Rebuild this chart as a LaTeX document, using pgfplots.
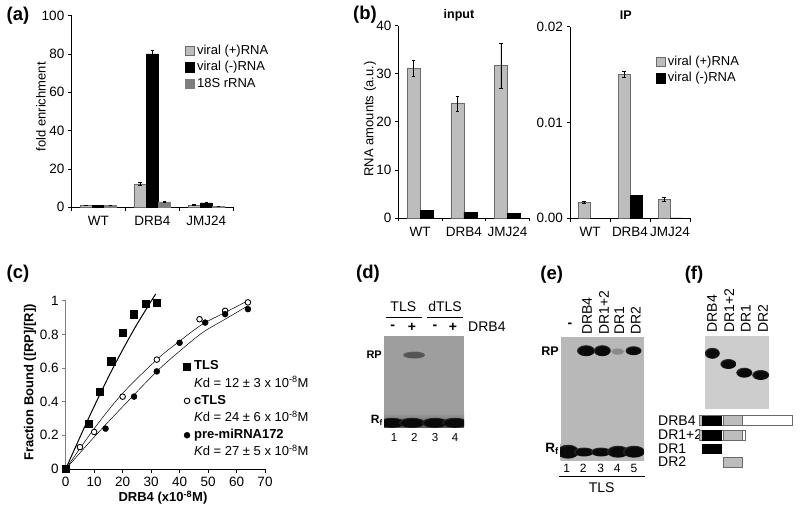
\documentclass[border=0pt]{standalone}
\usepackage{fontspec}
\setmainfont{Liberation Sans}
\usepackage{pgfplots}
\pgfplotsset{compat=1.18}
\definecolor{lgray}{HTML}{BDBDBD}
\definecolor{dgray}{HTML}{7E7E7E}
\definecolor{edge}{HTML}{6A6A6A}
\definecolor{geld}{HTML}{9E9E9E}
\definecolor{gele}{HTML}{B8B8B8}
\definecolor{gelf}{HTML}{CDCDCD}
\definecolor{core}{HTML}{0A0A0A}
\definecolor{weak}{HTML}{8A8A8A}
\definecolor{mid}{HTML}{555555}

\newcommand{\fs}[1]{\fontsize{#1}{#1}\selectfont}
\newcommand{\bandshade}[3]{\pgfdeclareradialshading{#1}{\pgfpoint{0bp}{0bp}}{color(0bp)=(#2); color(20bp)=(#2); color(50bp)=(#3); color(72bp)=(#3)}}
\bandshade{bandD}{core}{geld}
\bandshade{bandDm}{mid}{geld}
\bandshade{bandE}{core}{gele}
\bandshade{bandEw}{weak}{gele}
\bandshade{bandF}{core}{gelf}
% x, y, x radius, y radius, shading
\newcommand{\band}[5]{\shade[shading=#5] (#1,#2) ellipse [x radius=#3pt, y radius=#4pt];}

\pgfplotsset{
  panel/.style={
    scale only axis, axis lines=left, axis line style={-, line width=0.9pt},
    clip=false, tick align=outside, tick style={black, line width=0.7pt},
    major tick length=3.5pt, minor tick length=3.5pt,
    tick label style={font=\fs{13.5}},
    /pgf/number format/assume math mode=true,
    ylabel style={font=\fs{13}, anchor=center},
    title style={font=\bfseries\fs{12.5}, anchor=center},
  },
  barpanel/.style={
    panel, ybar=0pt, xmin=-0.5, xmax=2.5, ymin=0,
    xtick={0,1,2}, xticklabels={WT,DRB4,JMJ24}, major x tick style={draw=none},
    minor xtick={-0.5,0.5,1.5,2.5},
    xticklabel style={yshift=-2pt},
    legend cell align=left,
    legend style={draw=none, fill=none, font=\fs{13}, anchor=north west, row sep=4.7pt,
      nodes={inner xsep=2pt, inner ysep=0pt, text height=9.5pt, text depth=2.5pt}},
  },
  sq/.style={legend image code/.code={\draw[##1] (0pt,-4.7pt) rectangle (9.5pt,4.7pt);}},
  ebar/.style={error bars/.cd, y dir=both, y explicit,
    error bar style={black, line width=0.5pt}, error mark options={rotate=90, black, mark size=1.6pt, line width=0.5pt}},
  barg/.style={draw=edge, fill=lgray, line width=0.6pt, sq, ebar},
  bark/.style={draw=black, fill=black, line width=0.6pt, sq, ebar},
  bard/.style={draw=dgray, fill=dgray, line width=0.6pt, sq, ebar},
}

\begin{document}
\begin{tikzpicture}
\path[use as bounding box] (0,0) rectangle (800pt,512pt);

% (a)
\begin{axis}[barpanel, at={(71.3pt,304.7pt)}, anchor=south west, width=162pt, height=191.8pt,
  bar width=12.33pt, ymax=100, ytick={0,20,40,60,80,100},
  ylabel={fold enrichment}, ylabel style={at={(axis description cs:-0.187,0.524)}},
  legend style={at={(axis description cs:0.682,0.86)}}]
\addplot[barg] coordinates {(0,1.0) +- (0,0.1) (1,12.2) +- (0,0.8) (2,1.2) +- (0,0.2)};
\addplot[bark] coordinates {(0,0.8) +- (0,0.1) (1,80) +- (0,1.8) (2,2.3) +- (0,0.2)};
\addplot[bard] coordinates {(0,1.0) +- (0,0.1) (1,2.8) +- (0,0.3) (2,0.5) +- (0,0.1)};
\legend{viral (+)RNA, viral (-)RNA, 18S rRNA}
\end{axis}

% (b) input
\begin{axis}[barpanel, at={(398.3pt,294pt)}, anchor=south west, width=131pt, height=192.3pt,
  bar width=13pt, ymax=40, ytick={0,10,20,30,40},
  ylabel={RNA amounts (a.u.)}, ylabel style={at={(axis description cs:-0.216,0.515)}},
  title={input}, title style={at={(axis description cs:0.463,1.023)}}]
\addplot[barg] coordinates {(0,31.2) +- (0,1.7) (1,23.8) +- (0,1.5) (2,31.7) +- (0,4.7)};
\addplot[bark] coordinates {(0,1.5) (1,1.2) (2,1.0)};
\end{axis}

% (b) IP
\begin{axis}[barpanel, at={(570pt,293.7pt)}, anchor=south west, width=120pt, height=191.6pt,
  bar width=12pt, ymax=0.02, ytick={0,0.01,0.02}, scaled y ticks=false,
  yticklabel style={/pgf/number format/.cd, fixed, fixed zerofill, precision=2},
  title={IP}, title style={at={(axis description cs:0.464,1.03)}},
  legend style={at={(axis description cs:0.688,0.86)}}]
\addplot[barg] coordinates {(0,0.0017) +- (0,0.0001) (1,0.0150) +- (0,0.0003) (2,0.0020) +- (0,0.0002)};
\addplot[bark] coordinates {(0,0.00002) (1,0.0024) (2,0.00005)};
\legend{viral (+)RNA, viral (-)RNA}
\end{axis}

% (c)
\begin{axis}[panel, at={(65.7pt,43pt)}, anchor=south west, width=199.3pt, height=168.3pt,
  xmin=0, xmax=70, ymin=0, ymax=1, xtick={0,10,...,70}, ytick={0,0.2,0.4,0.6,0.8,1},
  y axis line style={draw=gray, line width=1.3pt}, ytick style={draw=gray},
  x axis line style={line width=0.7pt},
  xticklabel style={yshift=-1pt},
  ylabel={\bfseries Fraction Bound ([RP]/[R])}, ylabel style={at={(axis description cs:-0.179,0.514)}},
  xlabel={\bfseries DRB4 (x10\textsuperscript{-8}M)},
  xlabel style={font=\fs{13}, at={(axis description cs:0.488,-0.172)}, anchor=center},
  legend cell align=left,
  legend style={draw=none, fill=none, font=\fs{13}, anchor=north west, row sep=5.2pt,
    at={(axis description cs:0.55,0.658)},
    nodes={inner xsep=3.5pt, inner ysep=0pt, text height=9.5pt, text depth=2.5pt}},
  ]
\addlegendimage{only marks, mark=square*, black, mark size=3.6pt}
\addlegendentry{\bfseries TLS}
\addlegendimage{empty legend}
\addlegendentry{{\itshape K}d = 12 ± 3 x 10\textsuperscript{-8}M}
\addlegendimage{only marks, mark=*, mark options={fill=white, draw=black, line width=0.9pt}, mark size=2.8pt}
\addlegendentry{\bfseries cTLS}
\addlegendimage{empty legend}
\addlegendentry{{\itshape K}d = 24 ± 6 x 10\textsuperscript{-8}M}
\addlegendimage{only marks, mark=*, black, mark size=3pt}
\addlegendentry{\bfseries pre-miRNA172}
\addlegendimage{empty legend}
\addlegendentry{{\itshape K}d = 27 ± 5 x 10\textsuperscript{-8}M}
% fitted curves
\addplot[forget plot, black, line width=1pt, smooth] coordinates {(0,0) (8,0.30) (16,0.58) (24,0.83) (31.6,1.04)};
\addplot[forget plot, black, line width=0.5pt, smooth] coordinates {(0,0) (10,0.24) (20,0.45) (32,0.65) (40,0.76) (48,0.86) (56,0.93) (64,1.0)};
\addplot[forget plot, black, line width=0.5pt, smooth] coordinates {(0,0) (10,0.19) (20,0.37) (32,0.58) (40,0.70) (48,0.81) (56,0.89) (64,0.97)};
% measurements
\addplot[forget plot, only marks, mark=*, mark options={fill=white, draw=black, line width=0.9pt}, mark size=2.8pt]
  coordinates {(5,0.13) (10,0.22) (20,0.43) (32,0.65) (47,0.89) (56,0.94) (64,0.99)};
\addplot[forget plot, only marks, mark=*, black, mark size=3pt]
  coordinates {(14,0.24) (24,0.43) (32,0.58) (40,0.75) (49,0.87) (56,0.92) (64,0.95)};
\addplot[forget plot, only marks, mark=square*, black, mark size=3.6pt]
  coordinates {(0,0) (8,0.27) (12,0.46) (16,0.64) (20,0.81) (24,0.92) (28,0.98) (32,0.99)};
\end{axis}

% everything below in image pixels, y downwards
\begin{scope}[yshift=512pt, x=1pt, y=-1pt, every node/.style={inner sep=0pt}]
% panel letters
\node[font=\bfseries\fs{18.5}] at (18,16) {(a)};
\node[font=\bfseries\fs{18.5}] at (365,15) {(b)};
\node[font=\bfseries\fs{18.5}] at (18,274) {(c)};
\node[font=\bfseries\fs{18.5}] at (368,274) {(d)};
\node[font=\bfseries\fs{18.5}] at (551.7,275) {(e)};
\node[font=\bfseries\fs{18.5}] at (694,275) {(f)};

% (d) gel
\begin{scope}
\clip (384,335.7) rectangle (464,427.3);
\fill[geld] (384,335.7) rectangle (464,427.3);
\shade[top color=geld, middle color=black!90, bottom color=black!70] (384,413) rectangle (464,429);
\foreach \x in {392,412,435,455} {\band{\x}{422.8}{13}{5}{bandD}}
\band{414}{355}{11}{3.5}{bandDm}
\end{scope}
\node[font=\fs{14}] at (403.3,306.5) {TLS};
\node[font=\fs{14}] at (445,306.5) {dTLS};
\draw[line width=0.6pt] (386,317.3) -- (421.7,317.3) (427.3,317.3) -- (463,317.3);
\node[font=\bfseries\fs{14}] at (392.7,327) {-};
\node[font=\bfseries\fs{14}] at (412,327) {+};
\node[font=\bfseries\fs{14}] at (435,327) {-};
\node[font=\bfseries\fs{14}] at (453,327) {+};
\node[font=\fs{14}, anchor=west] at (468,327) {DRB4};
\node[font=\bfseries\fs{11}, anchor=east] at (382,355) {RP};
\node[font=\bfseries\fs{12}, anchor=east] at (383,420) {R\textsubscript{f}};
\foreach \x/\t in {394/1,414.3/2,435/3,455/4} {\node[font=\fs{11.5}] at (\x,437.7) {\t};}

% (e) gel
\begin{scope}
\clip (560.7,337.3) rectangle (644,460);
\fill[gele] (560.7,337.3) rectangle (644,460);
\shade[top color=gele, middle color=black!70, bottom color=gele] (560.7,443) rectangle (644,460);
\band{568}{451.7}{11}{7}{bandE}
\foreach \x in {584,601} {\band{\x}{452}{10}{4.5}{bandE}}
\foreach \x in {618,634} {\band{\x}{451.7}{11}{6}{bandE}}
\band{586}{350.7}{9}{5.5}{bandE}
\band{602.3}{350.7}{8.5}{5.5}{bandE}
\band{617.7}{351.5}{6.5}{3.2}{bandEw}
\band{633.5}{350.7}{8}{4.5}{bandE}
\end{scope}
\node[font=\bfseries\fs{12.5}, anchor=east] at (559,350.7) {RP};
\node[font=\bfseries\fs{13.5}, anchor=east] at (559,449) {R\textsubscript{f}};
\node[font=\bfseries\fs{14}] at (570,325) {-};
\foreach \x/\t in {587/DRB4,604/DR1+2,619.3/DR1,635.7/DR2} {\node[font=\fs{14}, rotate=90, anchor=west] at (\x,335) {\t};}
\foreach \x/\t in {566.7/1,583.3/2,600.7/3,617.3/4,634/5} {\node[font=\fs{12}] at (\x,468.3) {\t};}
\draw[line width=0.6pt] (559,476.7) -- (645,476.7);
\node[font=\fs{14}] at (601.7,487.7) {TLS};

% (f) gel
\begin{scope}
\clip (705,336) rectangle (769,409.3);
\fill[gelf] (705,336) rectangle (769,409.3);
\band{712.3}{353.3}{7.5}{5.5}{bandF}
\band{728.3}{364}{8}{5}{bandF}
\band{744.3}{372.7}{8}{5}{bandF}
\band{760.7}{375}{8.5}{5}{bandF}
\end{scope}
\foreach \x/\t in {712/DRB4,729.3/DR1+2,745.7/DR1,763/DR2} {\node[font=\fs{14}, rotate=90, anchor=west] at (\x,332.7) {\t};}

% (f) domain map
\node[font=\fs{14}, anchor=west] at (658,421) {DRB4};
\node[font=\fs{14}, anchor=west] at (658,435) {DR1+2};
\node[font=\fs{14}, anchor=west] at (658,449) {DR1};
\node[font=\fs{14}, anchor=west] at (658,462) {DR2};
\draw[edge, line width=0.6pt, fill=white] (699.3,415.7) rectangle (792.7,425.7);
\draw[edge, line width=0.6pt, fill=lgray] (699.3,415.7) rectangle (702,425.7) (723.3,415.7) rectangle (742.7,425.7);
\fill[black] (702,415.7) rectangle (721.7,425.7);
\draw[edge, line width=0.6pt, fill=white] (699.3,430.3) rectangle (745.7,440.7);
\draw[edge, line width=0.6pt, fill=lgray] (699.3,430.3) rectangle (702,440.7) (723.3,430.3) rectangle (742.7,440.7);
\fill[black] (702,430.3) rectangle (721.7,440.7);
\fill[black] (702,444.3) rectangle (721.7,454.3);
\draw[edge, line width=0.6pt, fill=lgray] (723.3,457) rectangle (742.7,467);
\end{scope}
\end{tikzpicture}
\end{document}
